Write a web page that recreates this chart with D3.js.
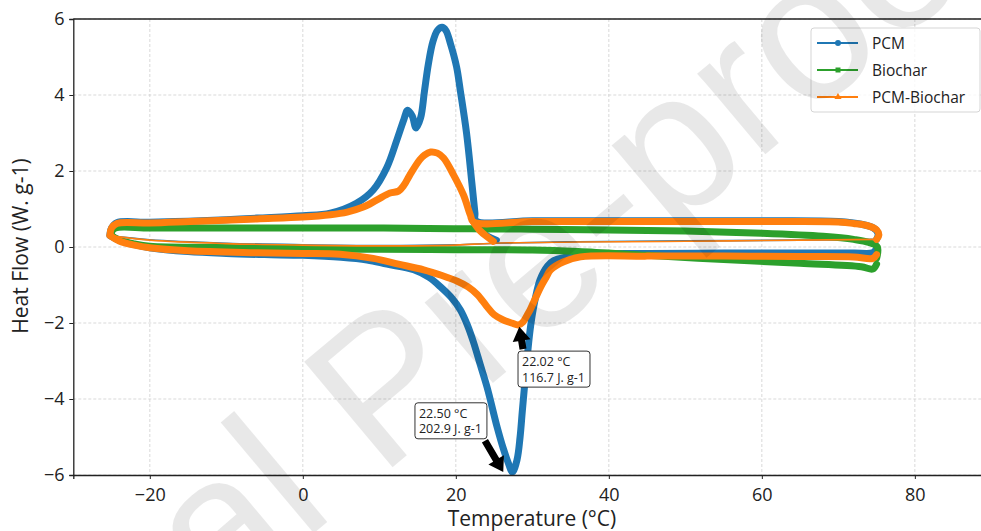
<!DOCTYPE html>
<html><head><meta charset="utf-8">
<script src="https://cdn.jsdelivr.net/npm/d3@7"></script>
<style>
body{margin:0;background:#fff;}
svg{display:block;font-family:"Open Sans","Noto Sans",sans-serif;}
</style></head>
<body><svg id="c" width="981" height="531"></svg>
<script>
// ---------- data ----------
const xTicks = [-20, 0, 20, 40, 60, 80];
const yTicks = [-6, -4, -2, 0, 2, 4, 6];
const seriesNames = ["PCM", "Biochar", "PCM-Biochar"];

// PCM: cooling run (75 -> -25, exotherm up)
const pcmCooling = [[75,0.2],[75.2,0.35],[74.6,0.5],[73,0.6],[70,0.67],[60,0.69],[40,0.69],[30,0.69],[22.6,0.69],
 [22.5,0.89],[22.1,1.68],[21.4,3.0],[20.6,4.1],[20.1,4.74],[19.3,5.35],[18.7,5.7],[18.2,5.78],[17.6,5.7],[17.0,5.4],
 [16.4,4.8],[15.9,4.1],[15.4,3.4],[14.8,3.13],[14.3,3.45],[13.7,3.6],[13.2,3.35],[12.3,2.82],[11.0,2.1],[9.2,1.5],
 [7.0,1.15],[3.6,0.89],[0,0.82],[-6,0.76],[-10,0.72],[-15,0.68],[-20,0.65],[-24.3,0.64],[-25,0.5],[-25.2,0.35]];
// PCM: heating run (-25 -> 75, endotherm down)
const pcmHeating = [[-25.2,0.3],[-24,0.18],[-22,0.06],[-20,-0.02],[-15,-0.12],[-10,-0.17],[-5,-0.2],[0,-0.22],[5,-0.27],
 [8.4,-0.34],[11,-0.45],[14.5,-0.6],[16.5,-0.8],[18,-1.05],[19.5,-1.35],[20.6,-1.66],[21.5,-2.05],[22.3,-2.5],[23.2,-3.1],
 [24.1,-3.7],[25.4,-4.74],[26.2,-5.3],[26.8,-5.65],[27.4,-5.92],[28.0,-5.6],[28.4,-5.0],[28.7,-4.3],[29.3,-2.97],
 [29.7,-2.2],[30.1,-1.66],[31.0,-0.87],[32,-0.5],[32.8,-0.36],[34.5,-0.26],[36.3,-0.2],[45,-0.17],[55,-0.16],[65,-0.16],
 [72,-0.16],[74.5,-0.15],[75,-0.05]];
const pcmTail = [[22.6,0.69],[23.2,0.45],[24.2,0.28],[25.3,0.18]];
const pcmLink = [[-25.2,0.3],[-20,0.19],[-10,0.1],[0,0.06],[10,0.04],[20,0.06],[25.3,0.1],[36,0.14],[50,0.16],[65,0.18],[75,0.2]];

// Biochar
const bioCooling = [[75,-0.3],[75.1,0.0],[74,0.12],[72,0.2],[68,0.28],[60,0.36],[50,0.42],[40,0.45],[30,0.47],[20,0.48],
 [10,0.5],[0,0.5],[-10,0.5],[-20,0.5],[-24.5,0.5],[-25,0.4],[-25,0.3]];
const bioHeating = [[-25,0.3],[-24,0.18],[-22,0.08],[-20,0.02],[-10,-0.01],[0,-0.03],[1.4,-0.05],[10,-0.06],[20,-0.07],
 [30,-0.08],[36,-0.12],[45,-0.22],[55,-0.33],[65,-0.43],[73,-0.52],[74.5,-0.58],[75,-0.45]];

// PCM-Biochar
const mixCooling = [[75,0.2],[75.3,0.32],[75,0.45],[74,0.55],[72,0.62],[70,0.66],[60,0.67],[40,0.67],[30,0.67],[22.3,0.66],
 [21.9,0.84],[21.0,1.37],[19.7,1.9],[18.4,2.34],[17.6,2.47],[16.7,2.5],[15.9,2.42],[15.3,2.3],[14.0,1.9],[13.2,1.62],
 [12.5,1.47],[11.4,1.42],[9.7,1.24],[7.9,1.05],[5.8,0.92],[3.6,0.85],[0,0.79],[-6,0.74],[-14.7,0.67],[-20,0.63],
 [-24.3,0.62],[-25,0.5],[-25.2,0.33]];
const mixHeating = [[-25.2,0.3],[-24,0.16],[-22,0.05],[-20,-0.02],[-15,-0.1],[-6,-0.15],[0,-0.17],[4.9,-0.19],[9.2,-0.3],
 [12.5,-0.45],[15.8,-0.6],[18.2,-0.75],[20.2,-0.9],[21.6,-1.05],[22.8,-1.25],[24.0,-1.55],[25.0,-1.78],[26.2,-1.92],
 [27.3,-2.0],[28.2,-2.05],[28.8,-1.97],[29.3,-1.8],[29.7,-1.66],[30.4,-1.35],[31.1,-1.05],[31.8,-0.8],[32.4,-0.6],
 [34.1,-0.39],[36.3,-0.26],[45,-0.24],[55,-0.24],[65,-0.25],[72,-0.26],[74.5,-0.3],[75,-0.2]];
const mixTail = [[22.3,0.66],[23.2,0.42],[24.1,0.27],[24.9,0.15]];
const mixLink = [[-25.2,0.3],[-20,0.18],[-10,0.09],[0,0.05],[10,0.03],[20,0.05],[24.9,0.1],[36,0.13],[50,0.15],[65,0.18],[75,0.2]];

// annotations
const annotations = [
  {lines:["22.02 °C","116.7 J. g-1"], tip:[28.3,-2.1], box:[28.13,-2.74]},
  {lines:["22.50 °C","202.9 J. g-1"], tip:[26.2,-5.92], box:[14.66,-4.1]}
];

// ---------- chart ----------
const colors = {"PCM":"#1f77b4","Biochar":"#2ca02c","PCM-Biochar":"#ff7f0e"};
const svg = d3.select("#c");
const L = 73.3, R = 983.7, T = 19, B = 475;
const x = d3.scaleLinear().domain([-30, 89]).range([L, R]);
const y = d3.scaleLinear().domain([-6, 6]).range([B, T]);

// grid
const grid = svg.append("g").attr("stroke","#cfcfcf").attr("stroke-width",0.8).attr("stroke-dasharray","3,2");
xTicks.forEach(t=>grid.append("line").attr("x1",x(t)).attr("x2",x(t)).attr("y1",T).attr("y2",B));
yTicks.forEach(t=>grid.append("line").attr("x1",L).attr("x2",R).attr("y1",y(t)).attr("y2",y(t)));

const line = d3.line().x(d=>x(d[0])).y(d=>y(d[1])).curve(d3.curveCatmullRom.alpha(0.5));
const plot = svg.append("g");
function drawSeries(name, thick, link){
  const c = colors[name];
  if(link) plot.append("path").attr("d", line(link)).attr("fill","none").attr("stroke",c).attr("stroke-width",1.6);
  thick.forEach(seg=>{
    plot.append("path").attr("d", line(seg)).attr("fill","none").attr("stroke",c)
      .attr("stroke-width",7).attr("stroke-linejoin","round").attr("stroke-linecap","round");
  });
}
drawSeries("PCM", [pcmCooling, pcmHeating, pcmTail], pcmLink);
drawSeries("Biochar", [bioCooling, bioHeating], null);
drawSeries("PCM-Biochar", [mixCooling, mixHeating, mixTail], mixLink);

// axes
const fmt = d=>d<0?"\u2212"+Math.abs(d):d;
const xAxis = d3.axisBottom(x).tickValues(xTicks).tickSize(4).tickFormat(fmt);
const yAxis = d3.axisLeft(y).tickValues(yTicks).tickSize(4).tickFormat(fmt);
const gx = svg.append("g").attr("transform",`translate(0,${B})`).call(xAxis);
const gy = svg.append("g").attr("transform",`translate(${L},0)`).call(yAxis);
[gx,gy].forEach(g=>{
  g.select(".domain").attr("stroke","#222").attr("stroke-width",1.3);
  g.selectAll(".tick line").attr("stroke","#222").attr("stroke-width",1);
  g.selectAll(".tick text").attr("fill","#222").style("font-size","18px").style("font-family","'Open Sans',sans-serif");
});
gx.selectAll(".tick text").attr("dy","1.05em");
gy.selectAll(".tick text").attr("dx","-0.1em");
svg.append("line").attr("x1",L).attr("x2",R).attr("y1",T).attr("y2",T).attr("stroke","#222").attr("stroke-width",1.3);

svg.append("text").attr("x",532).attr("y",526).attr("text-anchor","middle").attr("fill","#222")
  .style("font-size","21px").text("Temperature (°C)");
svg.append("text").attr("transform","translate(28,246) rotate(-90)").attr("text-anchor","middle").attr("fill","#222")
  .style("font-size","21px").text("Heat Flow (W. g-1)");

// annotations
function arrowPath(x1,y1,x2,y2){
  const dx=x2-x1, dy=y2-y1, len=Math.hypot(dx,dy), ux=dx/len, uy=dy/len, px=-uy, py=ux;
  const hl=14, hw=9, sw=3.5;
  const bx=x2-ux*hl, by=y2-uy*hl;
  const pts=[[x1+px*sw,y1+py*sw],[bx+px*sw,by+py*sw],[bx+px*hw,by+py*hw],[x2,y2],[bx-px*hw,by-py*hw],[bx-px*sw,by-py*sw],[x1-px*sw,y1-py*sw]];
  return "M"+pts.map(p=>p.join(",")).join("L")+"Z";
}
annotations.forEach(a=>{
  const bx=x(a.box[0]), by=y(a.box[1]);
  const g=svg.append("g");
  const t=g.append("text").attr("fill","#222").style("font-size","12.5px").style("font-family","'Open Sans',sans-serif");
  a.lines.forEach((s,i)=>t.append("tspan").attr("x",bx+4).attr("y",by+15+i*15.5).text(s));
  const bb=t.node().getBBox();
  const w=bb.width+9, h=36;
  g.insert("rect","text").attr("x",bx).attr("y",by).attr("width",w).attr("height",h).attr("rx",3)
    .attr("fill","#fff").attr("stroke","#333").attr("stroke-width",1);
  const tx=x(a.tip[0]), ty=y(a.tip[1]);
  const sx = ty<by ? bx+5 : bx+w-2;
  const sy = ty<by ? by-2 : by+h+2;
  svg.append("path").attr("d",arrowPath(sx,sy,tx,ty)).attr("fill","#000");
});

// legend
const lg = svg.append("g").attr("transform","translate(811,28)");
lg.append("rect").attr("width",169).attr("height",84).attr("rx",3).attr("fill","#fff").attr("fill-opacity",0.8)
  .attr("stroke","#d5d5d5").attr("stroke-width",1);
seriesNames.forEach((n,i)=>{
  const yy=15+i*27, c=colors[n];
  lg.append("line").attr("x1",6).attr("x2",47).attr("y1",yy).attr("y2",yy).attr("stroke",c).attr("stroke-width",2);
  if(i===0) lg.append("circle").attr("cx",27).attr("cy",yy).attr("r",3).attr("fill",c);
  if(i===1) lg.append("rect").attr("x",24.5).attr("y",yy-2.5).attr("width",5).attr("height",5).attr("fill",c);
  if(i===2) lg.append("path").attr("d",d3.symbol(d3.symbolTriangle,22)()).attr("transform",`translate(27,${yy})`).attr("fill",c);
  lg.append("text").attr("x",61).attr("y",yy+5.5).attr("fill","#222").style("font-size","15.5px").text(n);
});

// watermark
svg.append("text").attr("transform","translate(-165,935) rotate(-40)").attr("text-anchor","start")
  .attr("fill","#000").attr("fill-opacity",0.09)
  .style("font-family","'Liberation Sans',Arial,sans-serif").style("font-size","200px").text("Journal Pre-proof");
</script></body></html>
